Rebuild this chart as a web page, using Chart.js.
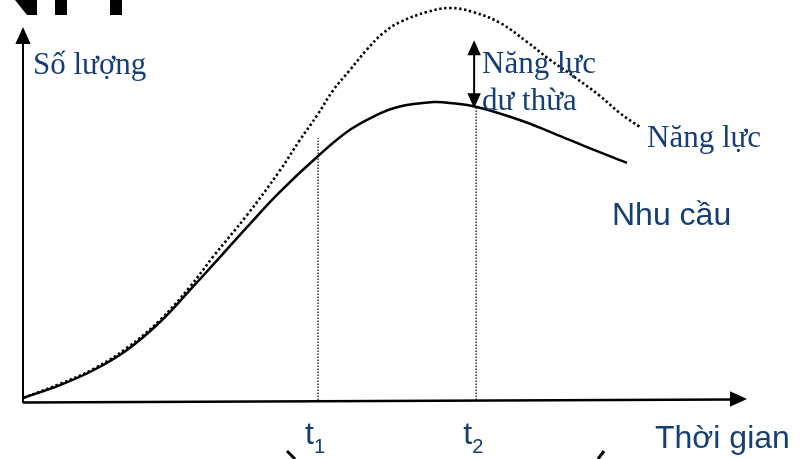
<!DOCTYPE html>
<html>
<head>
<meta charset="utf-8">
<script src="https://cdn.jsdelivr.net/npm/chart.js@4"></script>
<style>
  html, body { margin: 0; padding: 0; background: #fff; }
  #wrap { width: 800px; height: 459px; position: relative; }
</style>
</head>
<body>
<div id="wrap"><canvas id="grafico"></canvas></div>
<script>
// thời gian (0..100) và số lượng (0..100)
var thoiGian = [0, 5.1, 9.7, 14.3, 18.9, 23.4, 26.2, 30.9, 35.4, 40.7, 45.1, 48.8, 51.7, 56.6, 58.9, 62.6, 68.6, 73.1, 77.8, 83.3];
var nhuCau   = [1.0, 4.2, 7.9, 12.9, 19.9, 28.6, 34.1, 43.5, 52.2, 61.2, 67.7, 71.4, 73.4, 74.6, 74.4, 73.4, 70.1, 66.9, 63.4, 59.5];

var thoiGianNL = [0, 5.1, 9.7, 14.3, 18.9, 23.0, 26.2, 30.9, 35.4, 38.2, 40.6, 42.8, 45.1, 47.4, 49.7, 52.0, 55.7, 58.9, 62.1, 65.8, 69.5, 72.7, 76.1, 79.6, 82.3, 85.1];
var nangLuc    = [1.0, 4.5, 8.2, 13.4, 20.4, 28.6, 36.1, 46.5, 57.5, 65.2, 71.4, 77.6, 82.6, 87.6, 91.8, 94.5, 97.0, 98.0, 97.0, 94.3, 89.6, 85.1, 80.8, 76.1, 71.9, 68.4];

// mốc t1, t2 và đỉnh của đường chấm dọc
var mocThoiGian = [40.7, 62.5];
var mocNhan = ['1', '2'];
var mocDinh = [65.7, 73.4];
// mũi tên năng lực dư thừa (từ - đến)
var duThua = [73.1, 90.0];

var mauChu = '#153e75';

function pts(xs, ys) {
    return xs.map(function (x, i) { return { x: x, y: ys[i] }; });
}

function muiTen(ctx, x, y, dx, dy, size) {
    // tam giác đầu mũi tên, hướng (dx, dy)
    var len = Math.sqrt(dx * dx + dy * dy);
    var ux = dx / len, uy = dy / len;
    ctx.beginPath();
    ctx.moveTo(x, y);
    ctx.lineTo(x - ux * size - uy * size * 0.45, y - uy * size + ux * size * 0.45);
    ctx.lineTo(x - ux * size + uy * size * 0.45, y - uy * size - ux * size * 0.45);
    ctx.closePath();
    ctx.fill();
}

var veThem = {
    id: 'veThem',
    afterDatasetsDraw: function (chart) {
        var ctx = chart.ctx;
        var sx = chart.scales.x, sy = chart.scales.y;
        var x0 = sx.getPixelForValue(0), y0 = sy.getPixelForValue(0);
        ctx.save();
        ctx.fillStyle = '#000';
        ctx.strokeStyle = '#000';

        // trục tung
        ctx.lineWidth = 2;
        ctx.beginPath();
        ctx.moveTo(x0, y0 + 1);
        ctx.lineTo(x0, 42);
        ctx.stroke();
        muiTen(ctx, x0, 27, 0, -1, 17);

        // trục hoành
        ctx.lineWidth = 2.5;
        ctx.beginPath();
        ctx.moveTo(x0, y0 + 0.5);
        ctx.lineTo(732, y0 - 2.5);
        ctx.stroke();
        muiTen(ctx, 747, y0 - 3, 1, 0, 17);

        // đường chấm dọc t1, t2
        ctx.lineWidth = 1.2;
        ctx.setLineDash([1.5, 1.5]);
        mocThoiGian.forEach(function (t, i) {
            var px = sx.getPixelForValue(t);
            ctx.beginPath();
            ctx.moveTo(px, y0 - 2);
            ctx.lineTo(px, sy.getPixelForValue(mocDinh[i]));
            ctx.stroke();
        });
        ctx.setLineDash([]);

        // mũi tên hai chiều
        var ax = sx.getPixelForValue(mocThoiGian[1]) - 2;
        var yTren = sy.getPixelForValue(duThua[1]);
        var yDuoi = sy.getPixelForValue(duThua[0]);
        ctx.lineWidth = 2;
        ctx.beginPath();
        ctx.moveTo(ax, yTren + 12);
        ctx.lineTo(ax, yDuoi - 12);
        ctx.stroke();
        muiTen(ctx, ax, yTren, 0, -1, 15);
        muiTen(ctx, ax, yDuoi, 0, 1, 15);

        // chữ
        ctx.fillStyle = mauChu;
        ctx.textBaseline = 'alphabetic';
        ctx.font = '31px "Liberation Serif"';
        ctx.fillText('Số lượng', 33, 74);
        ctx.fillText('Năng lực', 482, 73);
        ctx.fillText('dư thừa', 482, 110);
        ctx.fillText('Năng lực', 647, 147);
        ctx.font = '32px "Liberation Sans"';
        ctx.fillText('Nhu cầu', 612, 225);
        ctx.fillText('Thời gian', 655, 448);
        mocThoiGian.forEach(function (t, i) {
            var px = sx.getPixelForValue(t);
            ctx.font = '32px "Liberation Sans"';
            ctx.fillText('t', px - 13, 444);
            ctx.font = '20px "Liberation Sans"';
            ctx.fillText(mocNhan[i], px - 4, 453);
        });

        // phần chữ bị cắt ở mép trên / dưới
        ctx.fillStyle = '#000';
        ctx.beginPath();
        ctx.moveTo(15, 0); ctx.lineTo(28, 0); ctx.lineTo(28, 15); ctx.lineTo(27, 15);
        ctx.closePath();
        ctx.fill();
        ctx.fillRect(27, 0, 10, 15);
        ctx.fillRect(55, 0, 12, 15);
        ctx.fillRect(110, 0, 12, 15);
        ctx.strokeStyle = '#000';
        ctx.lineWidth = 3;
        ctx.beginPath();
        ctx.moveTo(287, 451); ctx.lineTo(295, 459);
        ctx.moveTo(604, 451); ctx.lineTo(598, 459);
        ctx.stroke();
        ctx.restore();
    }
};

new Chart(document.getElementById('grafico').getContext('2d'), {
    type: 'line',
    data: {
        datasets: [{
            label: 'Nhu cầu',
            data: pts(thoiGian, nhuCau),
            borderColor: '#000',
            borderWidth: 2.5,
            pointRadius: 0,
            tension: 0.4,
            fill: false
        }, {
            label: 'Năng lực',
            data: pts(thoiGianNL, nangLuc),
            borderColor: '#000',
            borderWidth: 2.6,
            borderDash: [2.4, 2.6],
            pointRadius: 0,
            tension: 0.4,
            fill: false
        }]
    },
    options: {
        responsive: true,
        maintainAspectRatio: false,
        animation: false,
        layout: { padding: { left: 23, right: 52, top: 0, bottom: 57 } },
        plugins: {
            legend: { display: false },
            tooltip: { enabled: false }
        },
        scales: {
            x: { type: 'linear', min: 0, max: 100, display: false },
            y: { min: 0, max: 100, display: false }
        }
    },
    plugins: [veThem]
});
</script>
</body>
</html>
